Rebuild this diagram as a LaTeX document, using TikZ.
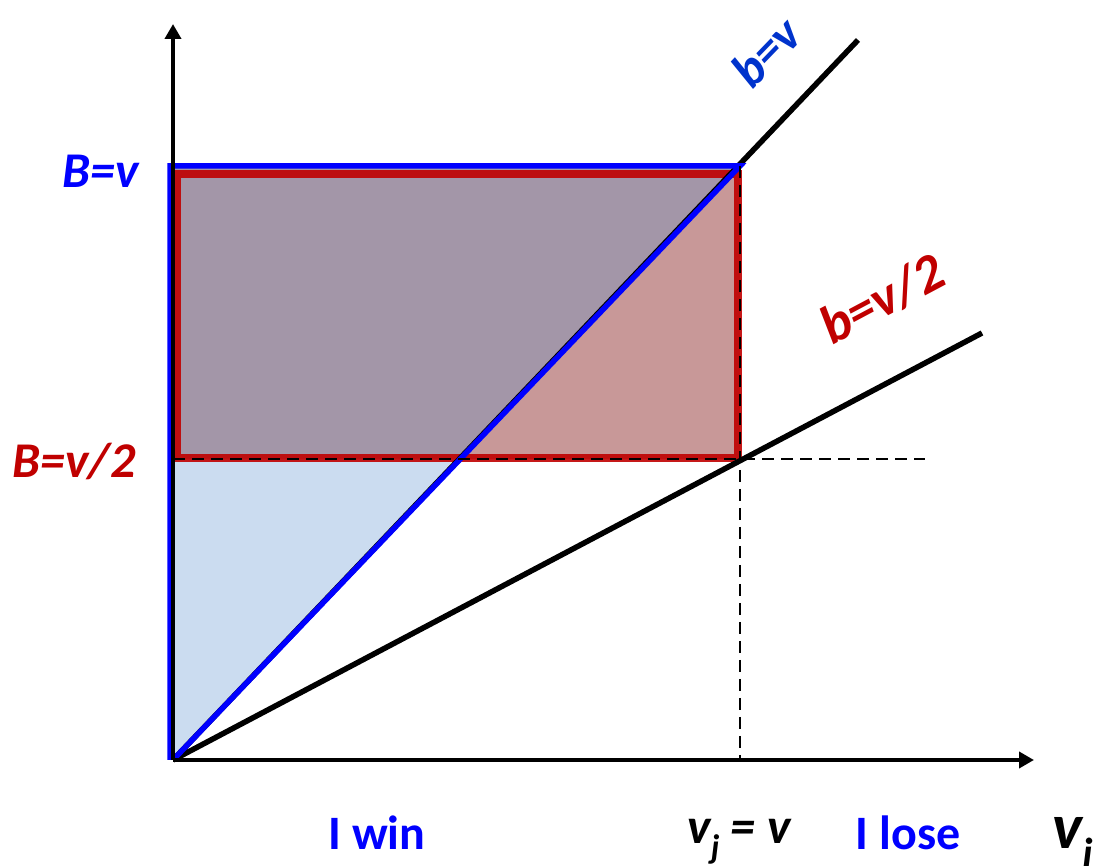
\documentclass[tikz,border=0pt]{standalone}
\usepackage{fontspec}
\setmainfont{Carlito}
\usetikzlibrary{arrows.meta}
\definecolor{myblue}{RGB}{0,0,255}
\definecolor{labblue}{RGB}{0,51,204}
\definecolor{myred}{RGB}{192,0,0}
\definecolor{purplefill}{RGB}{163,150,168}
\definecolor{pinkfill}{RGB}{200,152,152}
\definecolor{lbluefill}{RGB}{203,220,240}
\tikzset{
  axis/.style={line width=4pt,-{Triangle[length=15pt,width=16pt]}},
  bline/.style={line width=5.5pt,black},
  guide/.style={line width=1.8pt,black,dash pattern=on 12pt off 7pt},
  redbox/.style={line width=8.5pt,myred,draw opacity=0.9},
  bluebox/.style={line width=5.5pt,myblue,line join=miter},
  lab/.style={font=\fontsize{50}{55}\selectfont\bfseries\itshape,inner sep=0pt},
  winlab/.style={font=\fontsize{48}{52}\selectfont\bfseries,text=myblue,inner sep=0pt}
}
\begin{document}
\begin{tikzpicture}[x=1pt,y=1pt]
\useasboundingbox (0,0) rectangle (1095,865);
% key coordinates
\coordinate (O) at (173,105);
\coordinate (ytop) at (173,841);
\coordinate (xend) at (1034,105);
\coordinate (bvend) at (858,825);
\coordinate (bv2end) at (982,532);
\coordinate (P) at (740,699);
\coordinate (Q) at (740,406);
\coordinate (M) at (460,406);
\coordinate (L) at (173,406);
\coordinate (T) at (173,699);
\coordinate (hend) at (925,406);
% fills
\fill[purplefill] (T) -- (P) -- (M) -- (L) -- cycle;
\fill[pinkfill] (P) -- (Q) -- (M) -- cycle;
\fill[lbluefill] (L) -- (M) -- (O) -- cycle;
% red box
\draw[redbox] (177,407) rectangle (738,691);
% black lines
\draw[bline] (O) -- (bvend);
\draw[bline] (O) -- (bv2end);
% blue triangle outline
\draw[bluebox] (170,105) -- (170,699) -- (P) -- (O);
% axes
\draw[axis] (O) -- (ytop);
\draw[axis] (O) -- (xend);
% guides
\draw[guide] (L) -- (hend);
\draw[guide] (P) -- (740,105);
% labels
\node[lab,text=myblue] (lBv) at (101,694) {B=v};
\node[lab,text=myred] (lBv2) at (74,403) {B=v/2};
\node[lab,text=labblue,rotate=46] (lbv) at (766,813) {b=v};
\node[lab,text=myred,rotate=28,font=\fontsize{54}{58}\selectfont\bfseries\itshape] (lbv2) at (882,566) {b=v/2};
\node[winlab] (win) at (377,32) {I win};
\node[winlab] (lose) at (908,32) {I lose};
\node[lab,text=black,anchor=base] (vjv) at (739,22) {v\raisebox{-0.3em}{\fontsize{34}{36}\selectfont j} = v};
\node[lab,text=black,anchor=base west,font=\fontsize{64}{70}\selectfont\bfseries\itshape] (vj) at (1052,17) {v\raisebox{-0.3em}{\fontsize{42}{44}\selectfont j}};
\end{tikzpicture}
\end{document}
